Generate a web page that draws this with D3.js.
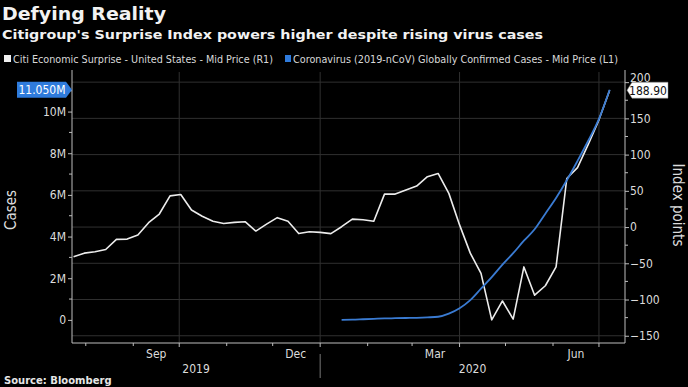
<!DOCTYPE html>
<html>
<head>
<meta charset="utf-8">
<script src="https://cdn.jsdelivr.net/npm/d3@7"></script>
<style>
	body{margin:0;background:#000;}
	svg{display:block;}
	text{font-family:"DejaVu Sans Condensed","DejaVu Sans",sans-serif;font-stretch:condensed;}
</style>
</head>
<body>
<div id="chart"></div>
<script>
// weekly samples
const surpriseDates = d3.range(51).map(i=>d3.timeDay.offset(new Date(2019,6,24),i*7));
const surpriseValues = [-41,-36,-34,-31,-17,-16.6,-11,6,18,43,45,23.5,15,8,5,6.5,7.4,-5.5,4,13,8,-9,-6.5,-7.3,-9,0.5,11,10,8,45.5,45.5,51,56.6,69.5,74,46.5,3,-36,-64,-128,-102,-127,-55,-94,-81,-55,67,82,114,148,188.9];
const casesDates = surpriseDates.slice(25);
const casesValues = [0.001,0.01,0.03,0.05,0.07,0.08,0.09,0.1,0.12,0.15,0.3,0.56,0.95,1.5,2.05,2.65,3.2,3.8,4.35,5.1,5.85,6.7,7.63,8.6,9.65,11.05]; // millions
const leftTicks = [0,2,4,6,8,10];
const rightTicks = [-150,-100,-50,0,50,100,150,200];
const monthLabels = [{d:new Date(2019,8,16),t:'Sep'},{d:new Date(2019,11,16),t:'Dec'},{d:new Date(2020,2,16),t:'Mar'},{d:new Date(2020,5,16),t:'Jun'}];
const yearLabels = [{t:'2019'},{t:'2020'}];

const W = 688, H = 387;
const _m = {t:72, r:63, l:72, b:44};

const _svg = d3.select('#chart').append('svg').attr('width',W).attr('height',H);
_svg.append('rect').attr('width',W).attr('height',H).attr('fill','#000');

const _x = d3.scaleTime().domain([new Date(2019,6,23),new Date(2020,6,18)]).range([_m.l,W-_m.r]);
const _yR = d3.scaleLinear().domain([-160,214]).range([H-_m.b,_m.t]);
const _yL = d3.scaleLinear().domain([-1.11,11.9]).range([H-_m.b,_m.t]);

const x0 = _m.l, x1 = W-_m.r, yB = H-_m.b;

function fit(sel,w){ sel.attr('textLength',w).attr('lengthAdjust','spacingAndGlyphs'); return sel; }

// titles
fit(_svg.append('text').attr('x',2).attr('y',20).text('Defying Reality')
	.style('font-family','"DejaVu Sans",sans-serif').style('font-stretch','normal')
	.attr('font-size',18).attr('font-weight','bold').attr('fill','#f2f2f2'),164);
fit(_svg.append('text').attr('x',2).attr('y',39).text("Citigroup's Surprise Index powers higher despite rising virus cases")
	.style('font-family','"DejaVu Sans",sans-serif').style('font-stretch','normal')
	.attr('font-size',13).attr('font-weight','bold').attr('fill','#f2f2f2'),541);

// legend
_svg.append('rect').attr('x',4).attr('y',55).attr('width',7).attr('height',7).attr('fill','#f0f0f0');
fit(_svg.append('text').attr('x',13).attr('y',63).attr('font-size',11).attr('fill','#d8d8d8')
	.text('Citi Economic Surprise - United States - Mid Price (R1)'),260);
_svg.append('rect').attr('x',285).attr('y',55).attr('width',6).attr('height',7).attr('fill','#2f7bdc');
fit(_svg.append('text').attr('x',293).attr('y',63).attr('font-size',11).attr('fill','#d8d8d8')
	.text('Coronavirus (2019-nCoV) Globally Confirmed Cases - Mid Price (L1)'),325);

// grid
const grid = _svg.append('g').attr('class','grid');
grid.selectAll('.h').data(rightTicks).enter().append('line')
	.attr('x1',x0).attr('x2',x1)
	.attr('y1',d=>_yR(d)).attr('y2',d=>_yR(d))
	.style('stroke','#303030').style('stroke-width','1px');
const quarters = d3.timeMonth.range(_x.domain()[0],_x.domain()[1]).filter(d=>d.getMonth()%3===0);
grid.selectAll('.v').data(quarters).enter().append('line')
	.attr('x1',d=>_x(d)).attr('x2',d=>_x(d))
	.attr('y1',_m.t).attr('y2',yB)
	.style('stroke','#303030').style('stroke-width','1px');

// left axis
const axisL = _svg.append('g').attr('transform',`translate(${x0},0)`)
	.call(d3.axisLeft(_yL).tickValues(leftTicks).tickSize(4).tickPadding(2).tickFormat(d=>d===0?'0':d+'M'));
axisL.select('.domain').attr('d',`M0,${_m.t-2}V${yB}`);
axisL.selectAll('line,path').style('stroke','#bdbdbd');
axisL.selectAll('text').attr('font-size',12).attr('fill','#dcdcdc').style('font-family',null);
axisL.selectAll('.minor').data(d3.range(1,12,2)).enter().append('line').attr('class','minor')
	.attr('x1',-3).attr('x2',0).attr('y1',d=>_yL(d)).attr('y2',d=>_yL(d)).style('stroke','#bdbdbd');

// right axis
const axisR = _svg.append('g').attr('transform',`translate(${x1},0)`)
	.call(d3.axisRight(_yR).tickValues(rightTicks).tickSize(4).tickPadding(1));
axisR.select('.domain').attr('d',`M0,${_m.t-2}V${yB}`);
axisR.selectAll('line,path').style('stroke','#bdbdbd');
axisR.selectAll('text').attr('font-size',12).attr('fill','#dcdcdc').style('font-family',null);
axisR.selectAll('.minor').data(d3.range(-125,200,50)).enter().append('line').attr('class','minor')
	.attr('x1',0).attr('x2',3).attr('y1',d=>_yR(d)).attr('y2',d=>_yR(d)).style('stroke','#bdbdbd');

// bottom axis
const axisB = _svg.append('g');
axisB.append('line').attr('x1',x0).attr('x2',x1).attr('y1',yB).attr('y2',yB).style('stroke','#bdbdbd');
const months = d3.timeMonth.range(_x.domain()[0],_x.domain()[1]);
axisB.selectAll('.mt').data(months).enter().append('line')
	.attr('x1',d=>_x(d)).attr('x2',d=>_x(d))
	.attr('y1',yB).attr('y2',d=>d.getMonth()%3===0?yB+4:yB+3)
	.style('stroke','#bdbdbd');
axisB.selectAll('.ml').data(monthLabels).enter().append('text')
	.attr('x',d=>_x(d.d)).attr('y',yB+15).attr('text-anchor','middle')
	.attr('font-size',12).attr('fill','#dcdcdc').text(d=>d.t);
const yearSplit = _x(new Date(2020,0,1));
yearLabels[0].x = (x0+yearSplit)/2; yearLabels[1].x = (yearSplit+x1)/2;
axisB.selectAll('.yl').data(yearLabels).enter().append('text')
	.attr('x',d=>d.x).attr('y',yB+30).attr('text-anchor','middle')
	.attr('font-size',12).attr('fill','#dcdcdc').text(d=>d.t);
axisB.append('line').attr('x1',yearSplit).attr('x2',yearSplit).attr('y1',yB+11).attr('y2',yB+35)
	.style('stroke','#777');

// axis titles
_svg.append('text').attr('transform',`translate(16,210) rotate(-90)`).attr('text-anchor','middle')
	.attr('font-size',15).attr('fill','#dcdcdc').text('Cases');
_svg.append('text').attr('transform',`translate(673,205) rotate(90)`).attr('text-anchor','middle')
	.attr('font-size',15).attr('fill','#dcdcdc').text('Index points');

// lines
const lineR = d3.line().x((d,i)=>_x(surpriseDates[i])).y(d=>_yR(d));
_svg.append('path').datum(surpriseValues).attr('d',lineR)
	.style('fill','none').style('stroke','#ececec').style('stroke-width','1.6px').style('stroke-linejoin','round');
const lineL = d3.line().x((d,i)=>_x(casesDates[i])).y(d=>_yL(d)).curve(d3.curveMonotoneX);
_svg.append('path').datum(casesValues).attr('d',lineL)
	.style('fill','none').style('stroke','#3a7bd2').style('stroke-width','1.8px').style('stroke-linejoin','round');

// last value tags
const lastL = _yL(casesValues[casesValues.length-1]);
const tagL = _svg.append('g');
tagL.append('path').attr('d',`M17,${lastL-8}H66L${x0},${lastL}L66,${lastL+8}H17Z`).attr('fill','#2f7bdc');
tagL.append('text').attr('x',42).attr('y',lastL+4.5).attr('text-anchor','middle')
	.attr('font-size',12).attr('fill','#fff').text(d3.format('.3f')(casesValues[casesValues.length-1])+'M');

// the 200 tick label sits partly under the value tag, as in the original
axisR.selectAll('.tick').filter(d=>d===200).select('text').attr('dy','-0.05em');
const lastR = _yR(surpriseValues[surpriseValues.length-1]);
const tagR = _svg.append('g');
tagR.append('path').attr('d',`M${x1+2},${lastR}L${x1+7},${lastR-8}H668V${lastR+8}H${x1+7}Z`)
	.attr('fill','#fff').attr('stroke','#888').attr('stroke-width',0.5);
tagR.append('text').attr('x',648).attr('y',lastR+4.5).attr('text-anchor','middle')
	.attr('font-size',12).attr('fill','#111').text(d3.format('.2f')(surpriseValues[surpriseValues.length-1]));

// source
_svg.append('text').attr('x',4).attr('y',384).text('Source: Bloomberg')
	.style('font-family','"DejaVu Sans",sans-serif').style('font-stretch','normal')
	.attr('font-size',10).attr('font-weight','bold').attr('fill','#e6e6e6');
</script>
</body>
</html>
